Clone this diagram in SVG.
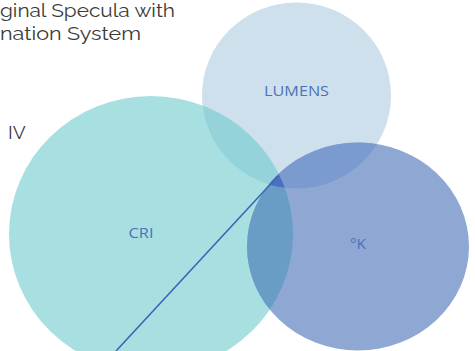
<svg xmlns="http://www.w3.org/2000/svg" width="475" height="351" viewBox="0 0 475 351">
  <style>
    .title { font-family: "Raleway", "Lato", "Liberation Sans", sans-serif; font-size: 19px; fill: #3a3a3a; }
    .label { font-family: "Open Sans", "Liberation Sans", sans-serif; font-size: 14.5px; fill: #4a72b8; text-anchor: middle; }
    .connector { stroke: #3b66b8; stroke-width: 1.6; fill: none; }
  </style>
  <defs>
    <clipPath id="clip-cri"><ellipse cx="151" cy="234" rx="142" ry="138"/></clipPath>
    <clipPath id="clip-lumens"><ellipse cx="296.5" cy="95.5" rx="94.5" ry="93"/></clipPath>
    <clipPath id="clip-k"><ellipse cx="358" cy="246.5" rx="111" ry="104"/></clipPath>
  </defs>
  <rect width="475" height="351" fill="#ffffff"/>

  <text class="title" x="0" y="17" textLength="175" lengthAdjust="spacingAndGlyphs">ginal Specula with</text>
  <text class="title" x="0" y="40" textLength="141" lengthAdjust="spacingAndGlyphs">nation System</text>
  <text class="title" x="8" y="139">IV</text>

  <g id="node-cri">
    <ellipse cx="151" cy="234" rx="142" ry="138" fill="#a8e0e2"/>
  </g>
  <g id="node-lumens">
    <ellipse cx="296.5" cy="95.5" rx="94.5" ry="93" fill="#cee0ec"/>
  </g>
  <g id="node-k">
    <ellipse cx="358" cy="246.5" rx="111" ry="104" fill="#8ea8d3"/>
  </g>

  <!-- overlap shading -->
  <g id="overlaps">
    <g clip-path="url(#clip-cri)">
      <ellipse cx="296.5" cy="95.5" rx="94.5" ry="93" fill="#94d3da"/>
      <ellipse cx="358" cy="246.5" rx="111" ry="104" fill="#6a9dc6"/>
    </g>
    <g clip-path="url(#clip-lumens)">
      <ellipse cx="358" cy="246.5" rx="111" ry="104" fill="#7b9bd0"/>
      <g clip-path="url(#clip-k)">
        <ellipse cx="151" cy="234" rx="142" ry="138" fill="#4a70c0"/>
      </g>
    </g>
  </g>

  <g id="connectors">
    <line class="connector" x1="116" y1="351" x2="278" y2="176"/>
  </g>

  <g id="labels">
    <text class="label" x="296.5" y="96" textLength="65" lengthAdjust="spacingAndGlyphs">LUMENS</text>
    <text class="label" x="141" y="238" textLength="25" lengthAdjust="spacingAndGlyphs">CRI</text>
    <text class="label" x="358" y="249" textLength="16" lengthAdjust="spacingAndGlyphs">°K</text>
  </g>
</svg>
